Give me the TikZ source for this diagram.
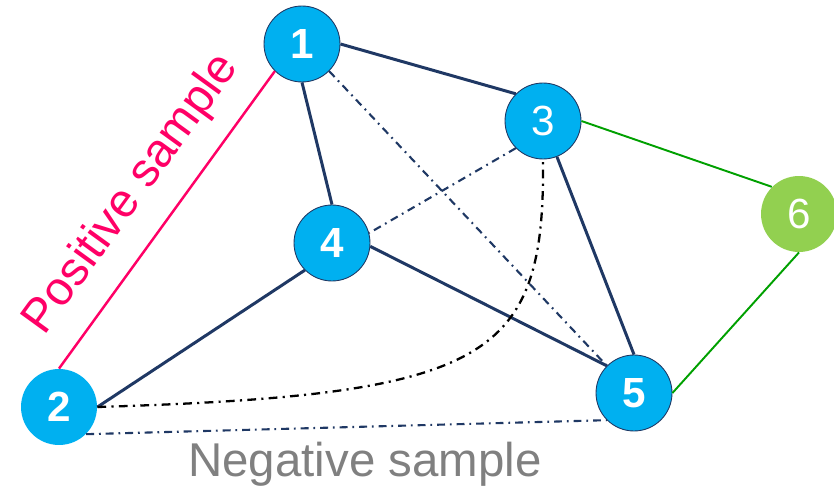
\documentclass[tikz,border=0pt]{standalone}
\usepackage{fontspec}
\setmainfont{Liberation Sans}
\definecolor{skyfill}{HTML}{00B0F0}
\definecolor{navy}{HTML}{1F3864}
\definecolor{leaf}{HTML}{92D050}
\definecolor{grass}{HTML}{00A000}
\definecolor{posline}{HTML}{FF0066}
\definecolor{negtext}{HTML}{808080}

\begin{document}
\begin{tikzpicture}[x=0.02cm, y=-0.02cm,
	vertex/.style={circle, fill=skyfill, draw=navy, line width=0.5pt, minimum size=1.52cm, inner sep=0pt,
		text=white, font=\fontsize{24}{24}\selectfont\bfseries},
	thin digit/.style={font=\fontsize{24}{24}\selectfont},
	link/.style={navy, line width=1.7pt},
	dashlink/.style={navy, line width=1.2pt, dash pattern=on 4.5pt off 2.8pt on 1pt off 2.8pt},
	curvelink/.style={black, line width=1.3pt, dash pattern=on 5pt off 3pt on 1.2pt off 3pt},
	greenlink/.style={grass, line width=1.1pt},
	bigtext/.style={font=\fontsize{27}{30}\selectfont}]
	\useasboundingbox (0,0) rectangle (834,496);

	\node [vertex] (1) at (302,44) {1};
	\node [vertex, draw=none] (2) at (59,407) {2};
	\node [vertex, thin digit] (3) at (543,121) {3};
	\node [vertex] (4) at (332,243) {4};
	\node [vertex] (5) at (634,393) {5};
	\node [vertex, draw=none, fill=leaf, thin digit] (6) at (799,214) {6};

	% positive pair
	\draw [posline, line width=1.4pt] (2.north) -- node [midway, sloped, anchor=base, yshift=17.7pt, text=posline, bigtext] {Positive sample} (1.225);

	% graph edges
	\draw [link] (1.east) -- (3.north west);
	\draw [link] (1.south) -- (4.north);
	\draw [link] (3) -- (5.north);
	\draw [link] (4.-5) -- (5.north west);
	\draw [link] (4.south west) -- (2.east);
	\draw [greenlink] (3.east) -- (6.north west);
	\draw [greenlink] (6.south) -- (5.east);

	% negative pairs
	\draw [dashlink] (1.south east) -- (5.north west);
	\draw [dashlink] (3.south west) -- (4.15);
	\draw [dashlink] (2.south east) -- (5.south west);
	\draw [curvelink] (2.east) .. controls (490,395) and (545,360) .. (3.south);

	\node [bigtext, text=negtext, anchor=base] (neg) at (365,476) {Negative sample};
\end{tikzpicture}
\end{document}
